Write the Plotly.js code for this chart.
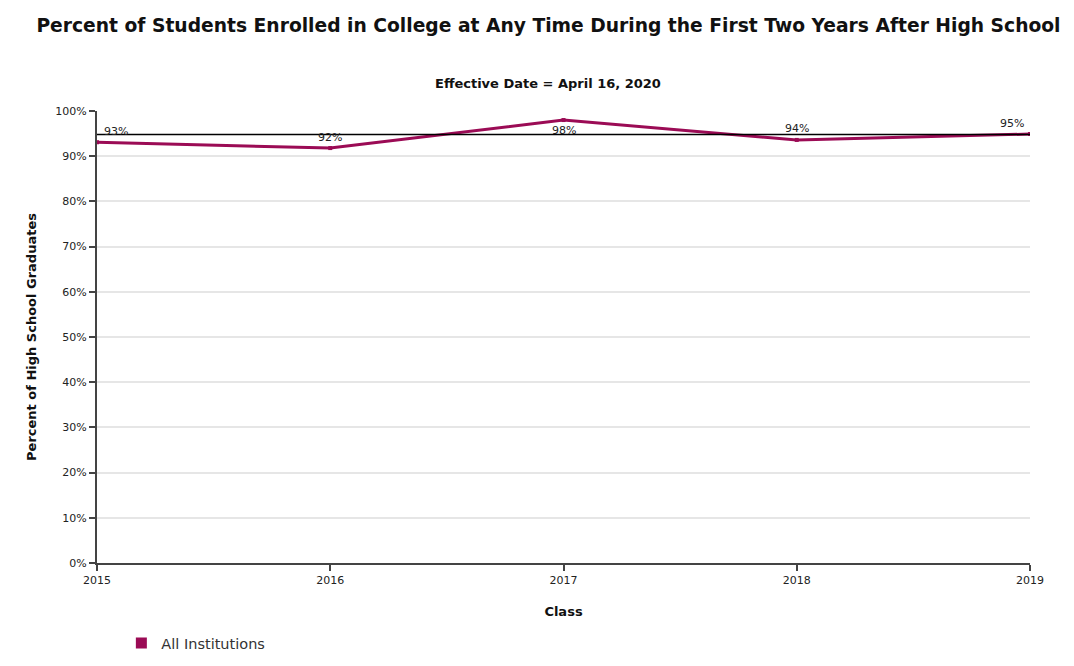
<!DOCTYPE html>
<html>
<head>
<meta charset="utf-8">
<script src="https://cdn.plot.ly/plotly-3.0.1.min.js"></script>
<style>html,body{margin:0;padding:0;background:#fff;}#chart{width:1074px;height:666px;}</style>
</head>
<body>
<div id="chart"></div>
<script>
const classes = ['2015', '2016', '2017', '2018', '2019'];
const allInstitutions = [93.1, 91.8, 98.0, 93.6, 94.9];
const pointLabels = ['93%', '92%', '98%', '94%', '95%'];
const referenceLine = 94.8;
const yTicks = [0, 10, 20, 30, 40, 50, 60, 70, 80, 90, 100];
const yTickLabels = yTicks.map(v => v + '%');

const lineColor = '#9b0b55';
const font = 'DejaVu Sans, Verdana, sans-serif';

const labelXShift = [19, 0, 0, 0, -18];
const labelYShift = [11, 11, -10, 11, 11];

const annotations = classes.map((c, i) => ({
  x: i, y: allInstitutions[i], xref: 'x', yref: 'y',
  text: pointLabels[i], showarrow: false,
  xshift: labelXShift[i], yshift: labelYShift[i],
  font: {family: font, size: 11, color: '#222'}
}));
annotations.push({
  xref: 'paper', yref: 'paper', x: 0.4829, y: 1, yshift: 28,
  xanchor: 'center', yanchor: 'middle', showarrow: false,
  text: '<b>Effective Date = April 16, 2020</b>',
  font: {family: font, size: 13, color: '#111'}
});

const traces = [
  {
    x: classes, y: allInstitutions, type: 'scatter', mode: 'lines+markers',
    line: {color: lineColor, width: 3},
    marker: {color: lineColor, size: 4, symbol: 'square'},
    showlegend: false, hoverinfo: 'x+y'
  },
  {
    x: [null], y: [null], type: 'scatter', mode: 'markers',
    name: 'All Institutions',
    marker: {color: lineColor, size: 11, symbol: 'square'},
    showlegend: true
  }
];

const layout = {
  width: 1074, height: 666,
  margin: {l: 97, r: 44, t: 111, b: 103, autoexpand: false},
  paper_bgcolor: '#fff', plot_bgcolor: '#fff',
  font: {family: font, size: 11, color: '#222'},
  title: {
    text: '<b>Percent of Students Enrolled in College at Any Time During the First Two Years After High School</b>',
    x: 0.5107, xanchor: 'center', y: 0.962, yanchor: 'middle',
    font: {family: font, size: 18.7, color: '#111'}
  },
  xaxis: {
    type: 'category', range: [0, classes.length - 1],
    showgrid: false, zeroline: false,
    showline: true, linecolor: '#444', linewidth: 2,
    ticks: 'outside', ticklen: 6, tickcolor: '#444', tickwidth: 2,
    tickfont: {family: font, size: 11, color: '#222'},
    title: {text: '<b>Class</b>', standoff: 21, font: {family: font, size: 13, color: '#111'}}
  },
  yaxis: {
    range: [0, 100], tickvals: yTicks, ticktext: yTickLabels,
    showgrid: true, gridcolor: '#e6e6e6', gridwidth: 2, zeroline: false,
    showline: true, linecolor: '#444', linewidth: 2,
    ticks: 'outside', ticklen: 6, tickcolor: '#444', tickwidth: 2,
    tickfont: {family: font, size: 11, color: '#222'},
    title: {text: '<b>Percent of High School Graduates</b>', standoff: 16, font: {family: font, size: 13, color: '#111'}}
  },
  shapes: [{
    type: 'line', xref: 'paper', yref: 'y', x0: 0, x1: 1,
    y0: referenceLine, y1: referenceLine,
    line: {color: '#000', width: 1.3}
  }],
  annotations: annotations,
  showlegend: true,
  legend: {
    orientation: 'h', xref: 'container', yref: 'container',
    x: 0.113, y: 0.0345, xanchor: 'left', yanchor: 'middle',
    font: {family: font, size: 14.5, color: '#333'}
  }
};

Plotly.newPlot('chart', traces, layout, {displayModeBar: false, staticPlot: true});
</script>
</body>
</html>
